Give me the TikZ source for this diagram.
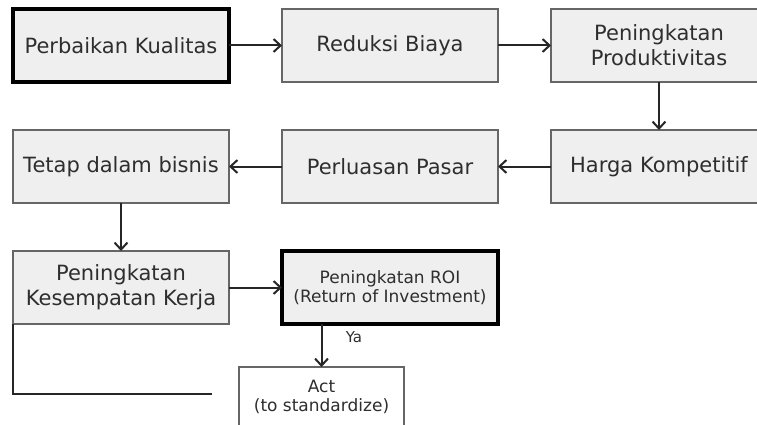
\documentclass[tikz,border=0pt]{standalone}
\usepackage{fontspec}
\setmainfont{DejaVu Sans}
\usepackage{xcolor}
\usepackage{tikz}
\usetikzlibrary{positioning,arrows.meta}
\definecolor{boxfill}{HTML}{EFEFEF}
\definecolor{boxline}{HTML}{666666}
\definecolor{txt}{HTML}{2E2E2E}

\begin{document}
\begin{tikzpicture}[x=1pt, y=-1pt, node distance=48pt and 53pt,
  font=\fontsize{21}{25}\selectfont, text=txt,
  b/.style={draw=boxline, line width=1.7pt, fill=boxfill, outer sep=0pt,
    minimum width=216pt, minimum height=73pt, align=center, inner sep=2pt},
  hb/.style={b, draw=black, line width=4pt},
  ab/.style={b, fill=white, minimum width=165pt, minimum height=60pt, anchor=north,
    font=\fontsize{17}{19}\selectfont},
  arr/.style={-{Straight Barb[length=7pt,width=13pt,line width=2pt]}, line width=2pt, draw=black!85},
  ln/.style={line width=2pt, draw=black!85}]
\useasboundingbox (0,0) rectangle (757,425);
\clip (0,0) rectangle (757,425);
\node[hb] (kual) at (121,45.5) {Perbaikan Kualitas};
\node[b, right=of kual] (biaya) {Reduksi Biaya};
\node[b, right=of biaya] (prod) {Peningkatan\\Produktivitas};
\node[b, below=of prod] (harga) {Harga Kompetitif};
\node[b, left=of harga] (pasar) {Perluasan Pasar};
\node[b, left=of pasar] (bisnis) {Tetap dalam bisnis};
\node[b, below=of bisnis] (kerja) {Peningkatan\\Kesempatan Kerja};
\node[hb, right=of kerja, font=\fontsize{17}{19}\selectfont] (roi) {Peningkatan ROI\\(Return of Investment)};
\node[ab] (act) at (321.5,367) {Act\\(to standardize)};
\coordinate (loopend) at (212,394);
\draw[arr] (kual)--(biaya); \draw[arr] (biaya)--(prod); \draw[arr] (prod)--(harga);
\draw[arr] (harga)--(pasar); \draw[arr] (pasar)--(bisnis); \draw[arr] (bisnis)--(kerja);
\draw[arr] (kerja)--(roi);
\draw[arr] (roi.south -| act.north)--(act.north)
  node[pos=0.3, right=20pt, font=\fontsize{15}{17}\selectfont] (ya) {Ya};
\draw[ln] (kerja.south west) |- (loopend);
\end{tikzpicture}
\end{document}
